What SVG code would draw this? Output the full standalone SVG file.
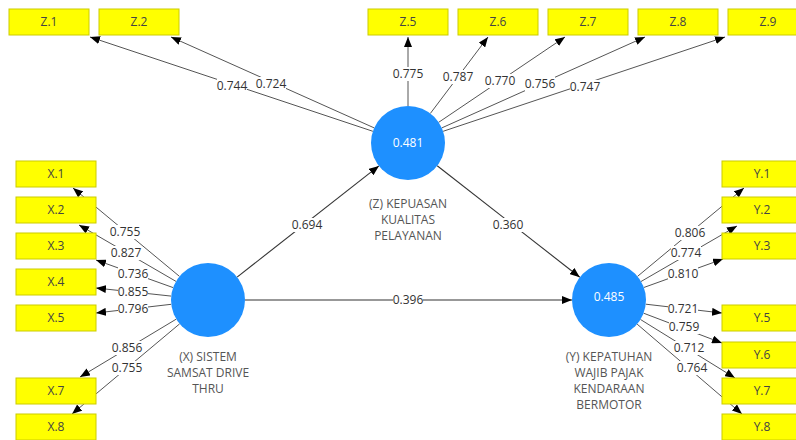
<svg xmlns="http://www.w3.org/2000/svg" width="796" height="440" viewBox="0 0 796 440">
<defs>
<marker id="ah" markerUnits="userSpaceOnUse" markerWidth="10" markerHeight="8" refX="10" refY="4" orient="auto"><path d="M0,0 L10,4 L0,8 z" fill="#000"/></marker>
<style>
text{font-family:"Open Sans","Liberation Sans",sans-serif;font-size:12px;text-anchor:middle}
.m{stroke:#555;stroke-width:1;fill:none;marker-end:url(#ah)}
.s{stroke:#333;stroke-width:1.1;fill:none;marker-end:url(#ah)}
.lb{fill:#fff}
.lt{fill:#333}
.box{fill:#ffff00;stroke:#cccc00;stroke-width:1}
.bt{fill:#444}
.c{fill:#1e90ff}
.ct{fill:#fff}
.nl{fill:#555}
</style>
</defs>
<rect width="796" height="440" fill="#fff"/>
<g id="connectors">
<line class="m" x1="372.9" y1="131.3" x2="90" y2="37"/>
<line class="m" x1="374.2" y1="127.9" x2="171" y2="37"/>
<line class="m" x1="408" y1="106" x2="408" y2="37"/>
<line class="m" x1="430.3" y1="113.5" x2="488" y2="37"/>
<line class="m" x1="438.7" y1="122.3" x2="565" y2="37"/>
<line class="m" x1="441.8" y1="127.9" x2="645" y2="37"/>
<line class="m" x1="443.1" y1="131.3" x2="725" y2="37"/>
<line class="m" x1="179.5" y1="276.4" x2="73" y2="188"/>
<line class="m" x1="176" y1="281.4" x2="79" y2="225"/>
<line class="m" x1="173.1" y1="287.6" x2="96" y2="260"/>
<line class="m" x1="171.2" y1="296.1" x2="96" y2="288"/>
<line class="m" x1="171.2" y1="304.3" x2="96" y2="313"/>
<line class="m" x1="176.3" y1="319.1" x2="80" y2="377"/>
<line class="m" x1="179.7" y1="323.8" x2="72" y2="414"/>
<line class="m" x1="637.5" y1="276.4" x2="744" y2="188"/>
<line class="m" x1="641" y1="281.5" x2="737" y2="226"/>
<line class="m" x1="643.8" y1="287.5" x2="723" y2="259"/>
<line class="m" x1="645.8" y1="304.2" x2="722" y2="313"/>
<line class="m" x1="643.6" y1="313.2" x2="722" y2="343"/>
<line class="m" x1="640.5" y1="319.5" x2="735" y2="378"/>
<line class="m" x1="637.1" y1="324.1" x2="742" y2="414"/>
<line class="s" x1="237.1" y1="277.1" x2="378.9" y2="165.9"/>
<line class="s" x1="437.2" y1="165.8" x2="579.8" y2="277.2"/>
<line class="s" x1="245" y1="300" x2="572" y2="300"/>
</g>
<g id="labels">
<rect class="lb" x="217" y="79" width="30" height="14"/><text class="lt" x="232" y="90">0.744</text>
<rect class="lb" x="256" y="77" width="30" height="14"/><text class="lt" x="271" y="88">0.724</text>
<rect class="lb" x="393" y="67" width="30" height="14"/><text class="lt" x="408" y="78">0.775</text>
<rect class="lb" x="443" y="70" width="30" height="14"/><text class="lt" x="458" y="81">0.787</text>
<rect class="lb" x="485" y="74" width="30" height="14"/><text class="lt" x="500" y="85">0.770</text>
<rect class="lb" x="525" y="77" width="30" height="14"/><text class="lt" x="540" y="88">0.756</text>
<rect class="lb" x="570" y="80" width="30" height="14"/><text class="lt" x="585" y="91">0.747</text>
<rect class="lb" x="110" y="225" width="30" height="14"/><text class="lt" x="125" y="236">0.755</text>
<rect class="lb" x="111" y="246" width="30" height="14"/><text class="lt" x="126" y="257">0.827</text>
<rect class="lb" x="118" y="267" width="30" height="14"/><text class="lt" x="133" y="278">0.736</text>
<rect class="lb" x="118" y="285" width="30" height="14"/><text class="lt" x="133" y="296">0.855</text>
<rect class="lb" x="118" y="302" width="30" height="14"/><text class="lt" x="133" y="313">0.796</text>
<rect class="lb" x="112" y="341" width="30" height="14"/><text class="lt" x="127" y="352">0.856</text>
<rect class="lb" x="112" y="361" width="30" height="14"/><text class="lt" x="127" y="372">0.755</text>
<rect class="lb" x="675" y="226" width="30" height="14"/><text class="lt" x="690" y="237">0.806</text>
<rect class="lb" x="671" y="246" width="30" height="14"/><text class="lt" x="686" y="257">0.774</text>
<rect class="lb" x="668" y="267" width="30" height="14"/><text class="lt" x="683" y="278">0.810</text>
<rect class="lb" x="668" y="302" width="30" height="14"/><text class="lt" x="683" y="313">0.721</text>
<rect class="lb" x="669" y="320" width="30" height="14"/><text class="lt" x="684" y="331">0.759</text>
<rect class="lb" x="674" y="341" width="30" height="14"/><text class="lt" x="689" y="352">0.712</text>
<rect class="lb" x="677" y="361" width="30" height="14"/><text class="lt" x="692" y="372">0.764</text>
<rect class="lb" x="292" y="218" width="30" height="14"/><text class="lt" x="307" y="229">0.694</text>
<rect class="lb" x="493" y="218" width="30" height="14"/><text class="lt" x="508" y="229">0.360</text>
<rect class="lb" x="393" y="293" width="30" height="14"/><text class="lt" x="408" y="304">0.396</text>
</g>
<g id="Z1"><rect class="box" x="9" y="9" width="80" height="26"/><text class="bt" x="49" y="26">Z.1</text></g>
<g id="Z2"><rect class="box" x="99" y="9" width="80" height="26"/><text class="bt" x="139" y="26">Z.2</text></g>
<g id="Z5"><rect class="box" x="368" y="9" width="80" height="26"/><text class="bt" x="408" y="26">Z.5</text></g>
<g id="Z6"><rect class="box" x="458" y="9" width="80" height="26"/><text class="bt" x="498" y="26">Z.6</text></g>
<g id="Z7"><rect class="box" x="548" y="9" width="80" height="26"/><text class="bt" x="588" y="26">Z.7</text></g>
<g id="Z8"><rect class="box" x="638" y="9" width="80" height="26"/><text class="bt" x="678" y="26">Z.8</text></g>
<g id="Z9"><rect class="box" x="728" y="9" width="80" height="26"/><text class="bt" x="768" y="26">Z.9</text></g>
<g id="X1"><rect class="box" x="16" y="161" width="80" height="26"/><text class="bt" x="56" y="178">X.1</text></g>
<g id="X2"><rect class="box" x="16" y="197" width="80" height="26"/><text class="bt" x="56" y="214">X.2</text></g>
<g id="X3"><rect class="box" x="16" y="233" width="80" height="26"/><text class="bt" x="56" y="250">X.3</text></g>
<g id="X4"><rect class="box" x="16" y="269" width="80" height="26"/><text class="bt" x="56" y="286">X.4</text></g>
<g id="X5"><rect class="box" x="16" y="305" width="80" height="26"/><text class="bt" x="56" y="322">X.5</text></g>
<g id="X7"><rect class="box" x="16" y="378" width="80" height="26"/><text class="bt" x="56" y="395">X.7</text></g>
<g id="X8"><rect class="box" x="16" y="414" width="80" height="26"/><text class="bt" x="56" y="431">X.8</text></g>
<g id="Y1"><rect class="box" x="722" y="161" width="80" height="26"/><text class="bt" x="762" y="178">Y.1</text></g>
<g id="Y2"><rect class="box" x="722" y="197" width="80" height="26"/><text class="bt" x="762" y="214">Y.2</text></g>
<g id="Y3"><rect class="box" x="722" y="233" width="80" height="26"/><text class="bt" x="762" y="250">Y.3</text></g>
<g id="Y5"><rect class="box" x="722" y="305" width="80" height="26"/><text class="bt" x="762" y="322">Y.5</text></g>
<g id="Y6"><rect class="box" x="722" y="342" width="80" height="26"/><text class="bt" x="762" y="359">Y.6</text></g>
<g id="Y7"><rect class="box" x="722" y="378" width="80" height="26"/><text class="bt" x="762" y="395">Y.7</text></g>
<g id="Y8"><rect class="box" x="722" y="414" width="80" height="26"/><text class="bt" x="762" y="431">Y.8</text></g>
<g id="Z"><circle class="c" cx="408" cy="143" r="37"/><text class="ct" x="408" y="147">0.481</text>
<text class="nl" x="408" y="208">(Z) KEPUASAN</text><text class="nl" x="408" y="224">KUALITAS</text><text class="nl" x="408" y="240">PELAYANAN</text></g>
<g id="X"><circle class="c" cx="208" cy="300" r="37"/>
<text class="nl" x="208" y="361">(X) SISTEM</text><text class="nl" x="208" y="377">SAMSAT DRIVE</text><text class="nl" x="208" y="393">THRU</text></g>
<g id="Y"><circle class="c" cx="609" cy="300" r="37"/><text class="ct" x="609" y="301">0.485</text>
<text class="nl" x="609" y="361">(Y) KEPATUHAN</text><text class="nl" x="609" y="377">WAJIB PAJAK</text><text class="nl" x="609" y="393">KENDARAAN</text><text class="nl" x="609" y="409">BERMOTOR</text></g>
</svg>
